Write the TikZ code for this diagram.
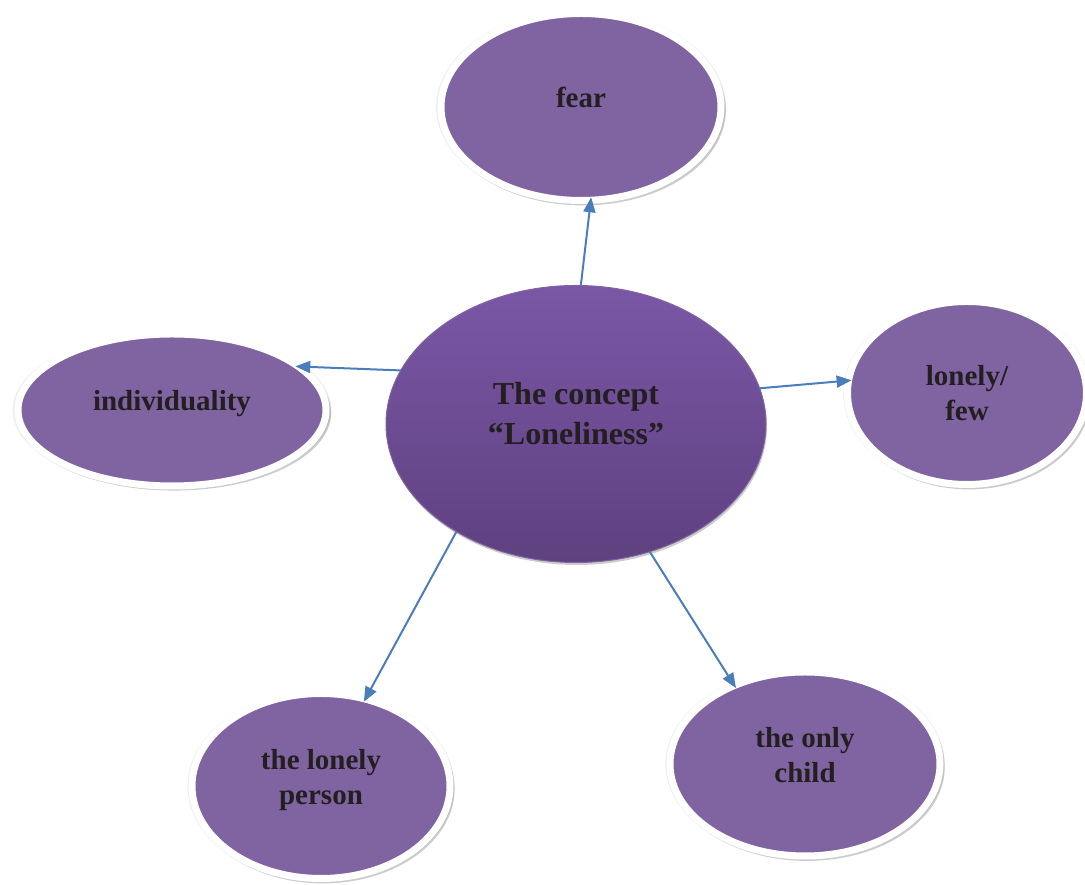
\documentclass[tikz,border=0pt]{standalone}
\usepackage{fontspec}
\setmainfont{Liberation Serif}
\usepackage{tikz}
\usetikzlibrary{shapes,shadows,arrows.meta}

\definecolor{bubblefill}{RGB}{128,100,162}
\definecolor{conctop}{RGB}{123,87,166}
\definecolor{concbottom}{RGB}{94,65,127}
\definecolor{inktext}{RGB}{35,31,32}
\definecolor{arrowblue}{RGB}{74,126,187}

\tikzset{
  bubble/.style={ellipse, fill=bubblefill, draw=white, line width=7pt, outer sep=0pt,
    text=inktext, align=center, text depth=20pt,
    font=\fontsize{29}{35}\selectfont\bfseries,
    general shadow={shadow scale=1.035, opacity=0.07, fill=black},
    drop shadow={shadow xshift=2pt, shadow yshift=-3pt, shadow scale=1.02, opacity=0.2, fill=black}},
  concept/.style={ellipse, top color=conctop, bottom color=concbottom, draw=bubblefill,
    line width=1pt, outer sep=0pt, text=inktext, align=center, text depth=22pt,
    font=\fontsize{32}{40}\selectfont\bfseries,
    drop shadow={shadow xshift=1pt, shadow yshift=-2.5pt, opacity=0.2, fill=black}},
  link/.style={draw=arrowblue, line width=2pt, shorten >=-3pt, -{Triangle[length=15pt,width=12pt]}}
}

\begin{document}
\begin{tikzpicture}[x=1pt,y=1pt]

\useasboundingbox (0,0) rectangle (1085,885);

 \node (fear) at (581, 778)[bubble, minimum width=280pt, minimum height=187pt]{fear};
 \node (indiv) at (172, 475)[bubble, minimum width=308pt, minimum height=152pt]{individuality};
 \node (few) at (967, 492)[bubble, minimum width=239pt, minimum height=183pt, text depth=0pt]{lonely/\\few};
 \node (person) at (321, 99)[bubble, minimum width=258pt, minimum height=185pt, text depth=18pt]{the lonely\\person};
 \node (child) at (805, 121)[bubble, minimum width=270pt, minimum height=184pt, text depth=19pt]{the only\\child};

 \node (concept) at (576, 461)[concept, minimum width=380pt, minimum height=277pt]{The concept\\``Loneliness''};

\draw [link] (concept.88) -- (fear.276);
\draw [link] (concept.163) -- (indiv.19);
\draw [link] (concept.11) -- (few.174);
\draw [link] (concept.222) -- (person.63);
\draw [link] (concept.300) -- (child.132);

\end{tikzpicture}
\end{document}
